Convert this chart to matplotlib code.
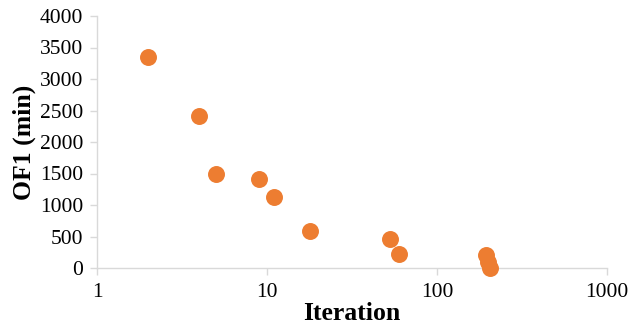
import matplotlib.pyplot as plt

# values
iterations = [2, 4, 5, 9, 11, 18, 53, 60, 195, 200, 205]
of1_min = [3350, 2420, 1500, 1420, 1120, 590, 460, 220, 200, 100, 0]

plt.rcParams['font.family'] = ['Liberation Serif', 'DejaVu Serif']

fig = plt.figure(figsize=(6.4, 3.29), dpi=100)
ax = fig.add_axes([97 / 640, 1 - 268 / 329, 510 / 640, 252 / 329])

ax.scatter(iterations, of1_min, s=125, color='#ED7D31', zorder=3, clip_on=False)

ax.set_xscale('log')
ax.set_xlim(1, 1000)
ax.set_ylim(0, 4000)
ax.set_xticks([1, 10, 100, 1000])
ax.set_xticklabels(['1', '10', '100', '1000'])
ax.minorticks_off()
ax.set_yticks(range(0, 4001, 500))

for s in ['top', 'right']:
    ax.spines[s].set_visible(False)
for s in ['left', 'bottom']:
    ax.spines[s].set_color('#d9d9d9')
    ax.spines[s].set_linewidth(1.0)

ax.tick_params(axis='both', colors='#d9d9d9', labelcolor='black', labelsize=15.5,
               length=5, width=1.0)
ax.tick_params(axis='x', pad=6)
ax.tick_params(axis='y', pad=5)

ax.set_xlabel('Iteration', fontsize=18.5, fontweight='bold', labelpad=0)
ax.set_ylabel('OF1 (min)', fontsize=18.5, fontweight='bold', labelpad=3)

fig.savefig('out.png', dpi=100)
